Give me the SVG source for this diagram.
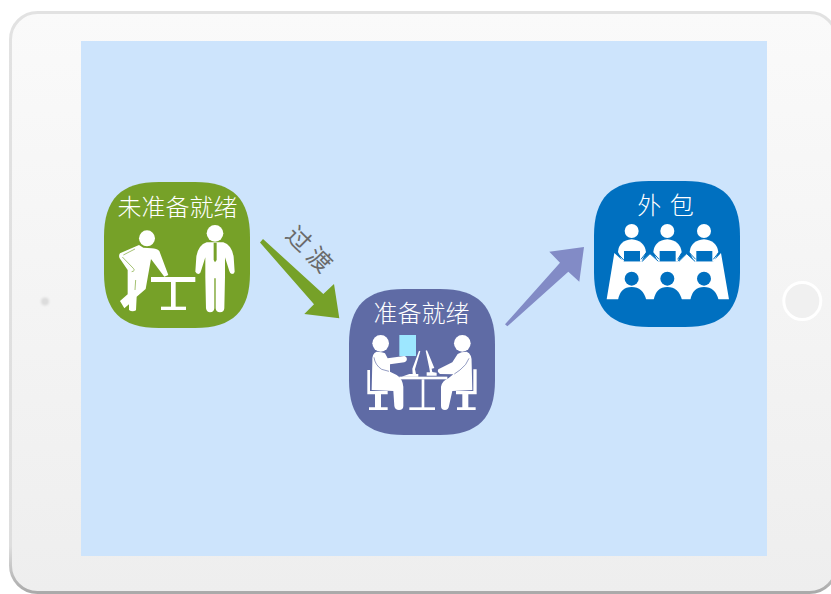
<svg xmlns="http://www.w3.org/2000/svg" width="831" height="594" viewBox="0 0 831 594">
<defs>
<linearGradient id="body" x1="0" y1="0" x2="0" y2="1"><stop offset="0" stop-color="#fafafa"/><stop offset="1" stop-color="#eeeeee"/></linearGradient>
<linearGradient id="edge" x1="0" y1="0" x2="0" y2="1"><stop offset="0" stop-color="#e2e2e2"/><stop offset="0.92" stop-color="#dedede"/><stop offset="1" stop-color="#aaaaaa"/></linearGradient>
<filter id="soft" x="-50%" y="-50%" width="200%" height="200%"><feGaussianBlur stdDeviation="0.8"/></filter>
<path id="card" d="M55 0H91C129 0 146 17 146 55V91C146 129 129 146 91 146H55C17 146 0 129 0 91V55C0 17 17 0 55 0Z"/>
</defs>
<style>
text{font-family:"Noto Sans CJK SC","Liberation Sans",sans-serif;font-size:24px;font-weight:300;fill:#fff}
.w{fill:#fff}
</style>
<rect width="831" height="594" fill="#ffffff"/>
<g id="tablet">
<rect x="10.500" y="12.500" width="826" height="580" rx="27" fill="url(#body)" stroke="url(#edge)" stroke-width="3"/>
<rect x="81" y="41" width="686" height="515" fill="#CDE4FC"/>
<circle cx="45" cy="301.500" r="4" fill="#dcdcdc" filter="url(#soft)"/>
<circle cx="802.300" cy="301" r="18.500" fill="#f0f0f0" stroke="#ffffff" stroke-width="3"/>
</g>
<g id="connectors">
<polygon id="arrow-green" points="263,239 323.300,294 334,284 339.300,318.300 304.300,314 314,304.300 260,242.500" fill="#76A128"/>
<polygon id="arrow-purple" points="505,324.300 560,262.700 549.300,251.700 584,247 579.300,281.700 568.300,271.700 507.300,326.300" fill="#828BC6"/>
<text x="0" y="0" transform="translate(310.500,248) rotate(45)" text-anchor="middle" dominant-baseline="central" style="fill:#6a6a6a;font-weight:400">过 渡</text>
</g>
<g id="node-unready">
<use href="#card" x="104" y="182" fill="#76A128"/>
<text x="177.500" y="216" text-anchor="middle">未准备就绪</text>
<g transform="translate(115,225) scale(0.3333)">
<circle class="w" cx="96" cy="40" r="24"/>
<circle class="w" cx="300" cy="25" r="25"/>
<rect class="w" x="108" y="156" width="133" height="15"/>
<rect class="w" x="168" y="171" width="14" height="76"/>
<rect class="w" x="138" y="245" width="75" height="10"/>
<path class="w" d="M275 52Q250 60 244 95L241 140Q245 147 251 147Q256 147 258 138L271 97L271 157L273 250Q275 262 285 262Q297 262 298 250L298 160L302 160L302 250Q303 262 315 262Q327 262 328 250L330 157L330 97L343 138Q345 147 351 147Q358 147 359 140L356 95Q350 60 325 52Z"/>
<path d="M296 53L305 53L305 105L300 112L296 105Z" fill="#76A128"/>
<path class="w" d="M72 60L15 85Q10 92 14 100L38 135L38 208L15 228L28 250L42 238L42 255Q52 262 63 256L65 215L92 192L108 102L148 155L160 150L133 78Q125 70 110 70L85 68Z"/>
<path d="M25 90L60 72M22 96L55 130Q62 138 50 140M62 165L60 195" fill="none" stroke="#76A128" stroke-width="2"/>
</g>
</g>
<g id="node-ready">
<use href="#card" x="349" y="289" fill="#5F6BA5"/>
<text x="421.500" y="322" text-anchor="middle">准备就绪</text>
<g transform="translate(365,330) scale(0.3333)">
<circle class="w" cx="47" cy="40" r="25"/>
<circle class="w" cx="292" cy="40" r="25"/>
<rect x="103" y="15" width="50" height="63" fill="#9DE7FF"/>
<path class="w" d="M7 120H15V183H68V193H48V232H68V240H12V232H30V193H7Z"/>
<path class="w" d="M335 118H325V183H273V193H292V232H276V240H332V232H310V193H335Z"/>
<path class="w" d="M35 65Q20 70 22 95L20 180L85 183L88 228Q90 240 102 240Q115 240 115 228L115 170Q112 145 95 135L75 125L75 103L118 97Q128 92 125 83Q122 78 118 78L68 85L60 70Q52 65 35 65Z"/>
<path class="w" d="M305 65Q322 72 320 100L322 180L262 183L252 228Q250 240 240 240Q228 240 228 228L228 170Q232 152 250 145L265 133L225 132Q215 125 220 118L262 97L278 72Q288 65 305 65Z"/>
<rect class="w" x="103" y="140" width="144" height="8"/>
<rect class="w" x="170" y="148" width="8" height="86"/>
<rect class="w" x="133" y="232" width="77" height="8"/>
<path class="w" d="M162 62L166 64L150 118L153 132L160 132L160 140L110 140L133 132L143 132L142 116Z"/>
<path class="w" d="M182 62L186 61L208 114L200 116L202 126L215 128L215 137L185 137L185 127L195 127L193 115Z"/>
<path d="M27 82Q30 105 50 118L72 124M312 85Q305 105 285 120L268 132" fill="none" stroke="#5F6BA5" stroke-width="2"/>
</g>
</g>
<g id="node-outsource">
<use href="#card" x="594" y="181" fill="#0070C0"/>
<text x="665.500" y="214" text-anchor="middle" word-spacing="3">外 包</text>
<g transform="translate(585,172) scale(0.3333)">
<path class="w" d="M88 243L115 268L170 268L195 245L222 268L280 268L305 245L330 268L385 268L408 243L432 382L65 382Z"/>
<circle class="w" cx="140" cy="177" r="21"/>
<circle class="w" cx="247" cy="177" r="21"/>
<circle class="w" cx="357" cy="177" r="21"/>
<path class="w" d="M99 240Q102 205 140 202Q178 205 183 240L170 268L112 268Z"/>
<path class="w" d="M205 240Q209 205 247 202Q285 205 290 240L278 268L218 268Z"/>
<path class="w" d="M314 240Q318 205 357 202Q395 205 400 240L388 268L327 268Z"/>
<path d="M97 243L117 265M183 243L168 262M195 245L172 268M205 243L222 262M195 245L220 268M290 243L278 262M305 245L282 268M314 243L332 262M305 245L330 268M400 243L385 262" fill="none" stroke="#0070C0" stroke-width="3"/>
<g fill="#0070C0">
<rect x="117" y="237" width="48" height="31"/>
<rect x="224" y="237" width="48" height="31"/>
<rect x="334" y="237" width="48" height="31"/>
<circle cx="140" cy="320" r="21"/>
<circle cx="247" cy="320" r="21"/>
<circle cx="357" cy="320" r="21"/>
<path d="M99 384Q106 345 140 345Q174 345 184 384Z"/>
<path d="M206 384Q213 345 247 345Q281 345 291 384Z"/>
<path d="M316 384Q323 345 357 345Q391 345 401 384Z"/>
</g>
</g>
</g>
</svg>
